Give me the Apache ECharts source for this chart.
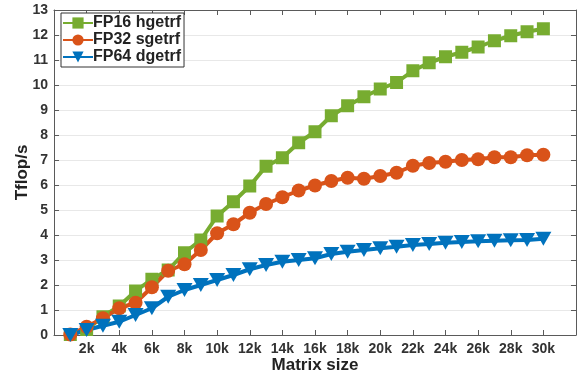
<!DOCTYPE html>
<html>
<head>
<meta charset="utf-8">
<script src="https://cdn.jsdelivr.net/npm/echarts@6/dist/echarts.min.js"></script>
<style>
  html, body { margin: 0; padding: 0; background: #fff; }
  #chart { width: 585px; height: 375px; }
</style>
</head>
<body>
<div id="chart"></div>
<script>
// matrix size in thousands
var sizes = [1, 2, 3, 4, 5, 6, 7, 8, 9, 10, 11, 12, 13, 14, 15, 16, 17, 18, 19, 20, 21, 22, 23, 24, 25, 26, 27, 28, 29, 30];
var fp16 = [0.02, 0.22, 0.73, 1.16, 1.76, 2.23, 2.6, 3.29, 3.8, 4.76, 5.33, 5.96, 6.75, 7.09, 7.69, 8.13, 8.77, 9.17, 9.53, 9.84, 10.1, 10.57, 10.89, 11.13, 11.31, 11.52, 11.77, 11.97, 12.13, 12.25];
var fp32 = [0.02, 0.33, 0.67, 1.07, 1.29, 1.91, 2.57, 2.83, 3.4, 4.07, 4.43, 4.89, 5.24, 5.51, 5.78, 5.98, 6.16, 6.29, 6.25, 6.36, 6.49, 6.77, 6.88, 6.93, 7.0, 7.03, 7.11, 7.11, 7.19, 7.21];
var fp64 = [0.0, 0.2, 0.37, 0.53, 0.8, 1.07, 1.53, 1.8, 2.0, 2.2, 2.4, 2.63, 2.8, 2.93, 3.0, 3.07, 3.24, 3.33, 3.4, 3.47, 3.53, 3.6, 3.64, 3.69, 3.72, 3.75, 3.77, 3.79, 3.8, 3.85];
var seriesNames = ["FP16 hgetrf", "FP32 sgetrf", "FP64 dgetrf"];

function pairs(ys) {
  return sizes.map(function (x, i) { return [x, ys[i]]; });
}

var font = "Liberation Sans, Arial, sans-serif";
var axisGray = "#5a5a5a";
var tickStyle = { show: true, inside: true, length: 5, lineStyle: { color: axisGray } };
var lineStyleAxis = { show: true, onZero: false, lineStyle: { color: axisGray, width: 1 } };

var myChart = echarts.init(document.getElementById("chart"));
var option = {
  animation: false,
  textStyle: { fontFamily: font },
  grid: { left: 54, right: 9, top: 10, bottom: 40, containLabel: false, outerBoundsMode: "none" },
  legend: {
    orient: "vertical",
    left: 61,
    top: 13,
    padding: [2, 3, 2, 1],
    itemGap: 1,
    itemWidth: 30,
    itemHeight: 14,
    backgroundColor: "#fff",
    borderColor: "#333",
    borderWidth: 1,
    borderRadius: 0,
    textStyle: { fontFamily: font, fontSize: 16, fontWeight: "bold", color: "#222", padding: [0, 0, 0, -5] },
    data: seriesNames
  },
  xAxis: [
    {
      type: "value",
      min: 0,
      max: 32,
      interval: 2,
      name: "Matrix size",
      nameLocation: "middle",
      nameGap: 22,
      nameMoveOverlap: false,
      nameTextStyle: { fontFamily: font, fontSize: 17, fontWeight: "bold", color: "#222" },
      axisLine: lineStyleAxis,
      axisTick: tickStyle,
      axisLabel: {
        fontFamily: font, fontSize: 14, fontWeight: "bold", color: "#333", margin: 7,
        formatter: function (v) { return (v === 0 || v === 32) ? "" : v + "k"; }
      },
      splitLine: { show: false }
    },
    {
      type: "value",
      position: "top",
      min: 0,
      max: 32,
      interval: 2,
      axisLine: lineStyleAxis,
      axisTick: tickStyle,
      axisLabel: { show: false },
      splitLine: { show: false }
    }
  ],
  yAxis: [
    {
      type: "value",
      min: 0,
      max: 13,
      interval: 1,
      name: "Tflop/s",
      nameLocation: "middle",
      nameGap: 23,
      nameMoveOverlap: false,
      nameTextStyle: { fontFamily: font, fontSize: 17, fontWeight: "bold", color: "#222" },
      axisLine: lineStyleAxis,
      axisTick: tickStyle,
      axisLabel: { fontFamily: font, fontSize: 14, fontWeight: "bold", color: "#333", margin: 6 },
      splitLine: { show: true, lineStyle: { color: "#e8e8e8", width: 1 } }
    },
    {
      type: "value",
      position: "right",
      min: 0,
      max: 13,
      interval: 1,
      axisLine: lineStyleAxis,
      axisTick: tickStyle,
      axisLabel: { show: false },
      splitLine: { show: false }
    }
  ],
  series: [
    {
      name: seriesNames[0],
      type: "line",
      data: pairs(fp16),
      symbol: "rect",
      symbolSize: 13,
      color: "#77AC30",
      lineStyle: { color: "#77AC30", width: 4 },
      itemStyle: { color: "#77AC30" }
    },
    {
      name: seriesNames[1],
      type: "line",
      data: pairs(fp32),
      symbol: "circle",
      symbolSize: 14,
      color: "#D95319",
      lineStyle: { color: "#D95319", width: 4 },
      itemStyle: { color: "#D95319" }
    },
    {
      name: seriesNames[2],
      type: "line",
      data: pairs(fp64),
      symbol: "triangle",
      symbolRotate: 180,
      symbolSize: [16, 14],
      color: "#0072BD",
      lineStyle: { color: "#0072BD", width: 4 },
      itemStyle: { color: "#0072BD" }
    }
  ]
};
option && myChart.setOption(option, true);
</script>
</body>
</html>
